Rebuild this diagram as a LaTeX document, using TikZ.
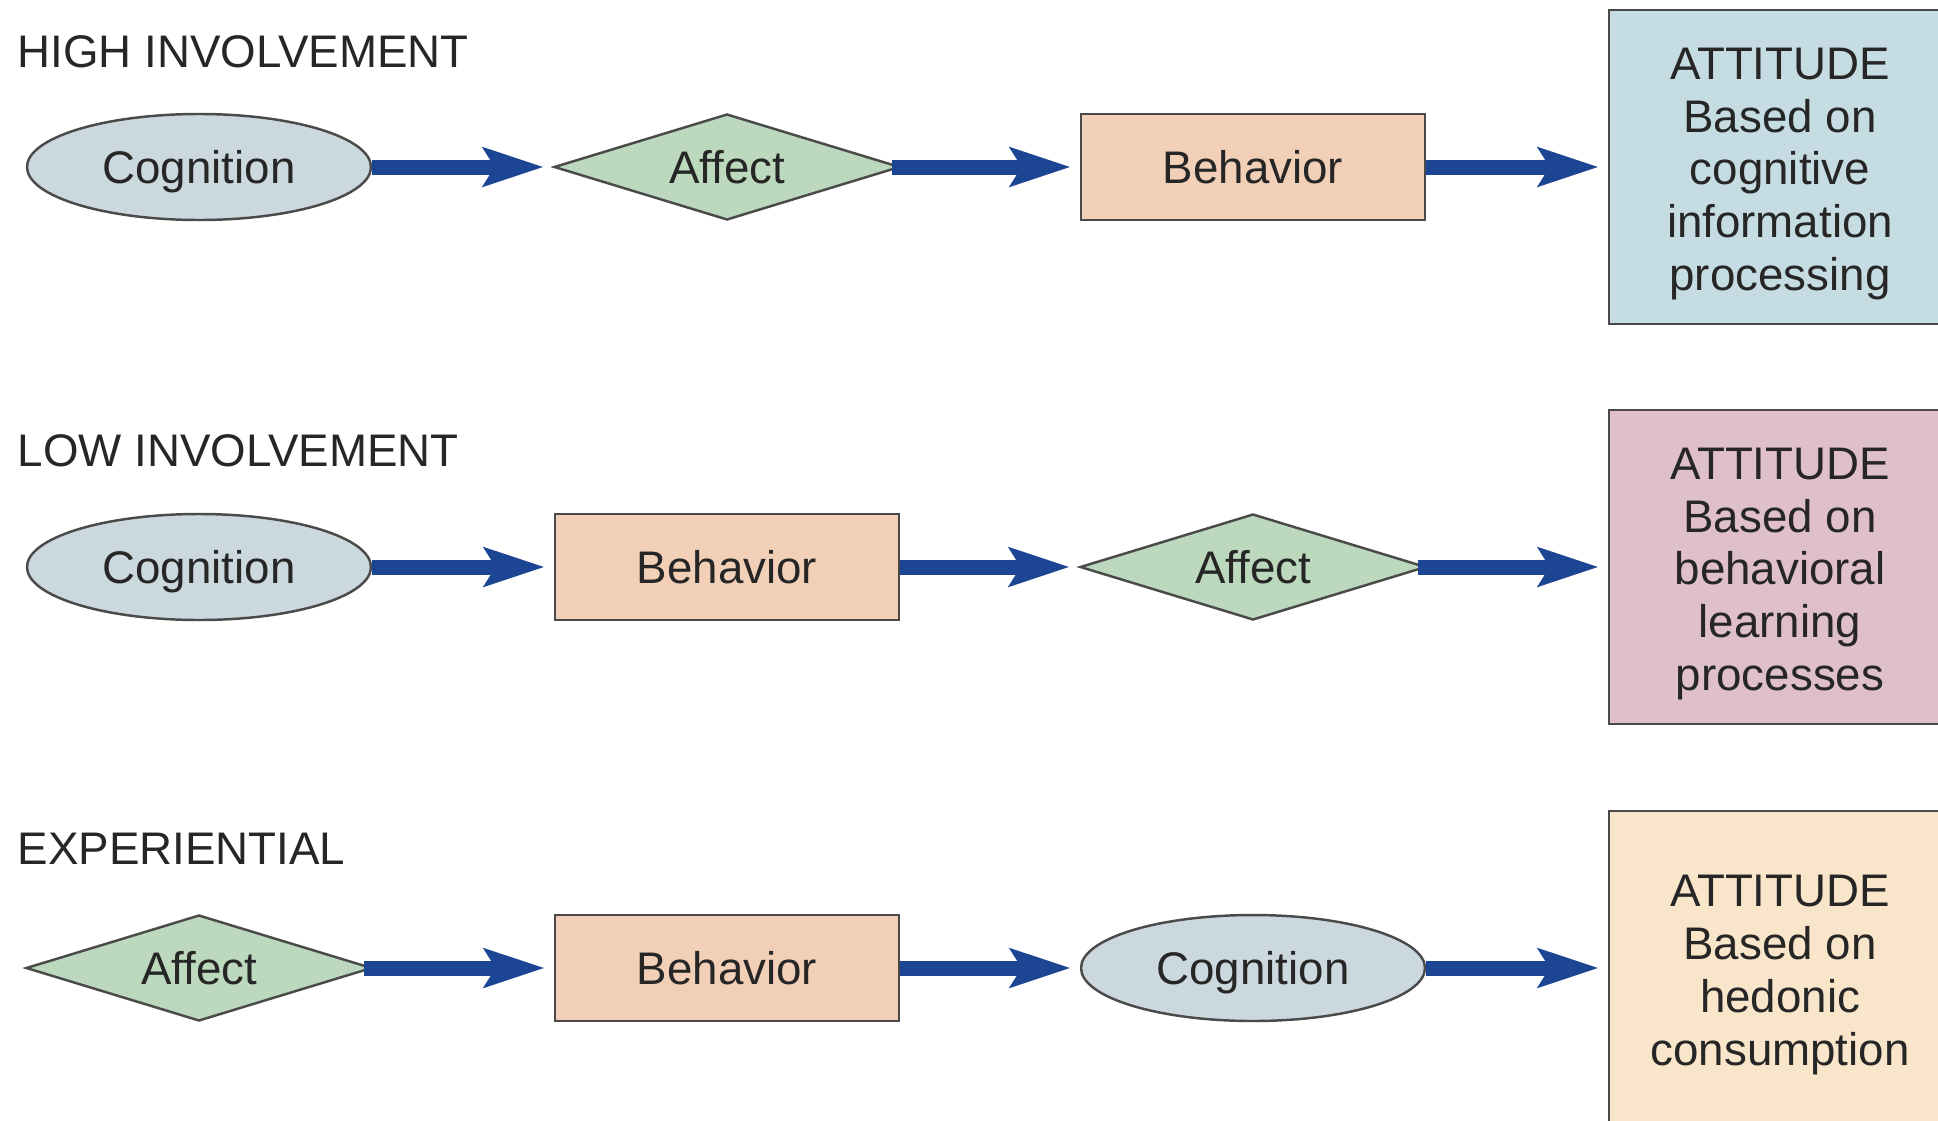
\documentclass[tikz,border=0pt]{standalone}
\usepackage{fontspec}
\setmainfont{Liberation Sans}
\usepackage[HTML]{xcolor}
\usetikzlibrary{shapes.geometric, arrows.meta}

\definecolor{cogfill}{HTML}{CBD8DE}
\definecolor{afffill}{HTML}{BCD9BD}
\definecolor{behfill}{HTML}{F2D0B8}
\definecolor{attblue}{HTML}{C6DCE3}
\definecolor{attpink}{HTML}{DFBFC8}
\definecolor{attcream}{HTML}{F9E5CA}
\definecolor{edgegray}{HTML}{4A4A4A}
\definecolor{arrowblue}{HTML}{1C4593}

\tikzset{
    cog/.style={ellipse, draw=edgegray, line width=0.7pt, fill=cogfill,
        minimum width=3.44cm, minimum height=1.06cm, inner sep=0pt, text depth=0pt},
    aff/.style={diamond, aspect=3.3, draw=edgegray, line width=0.7pt, fill=afffill,
        minimum width=3.46cm, minimum height=1.06cm, inner sep=0pt},
    beh/.style={rectangle, draw=edgegray, line width=0.7pt, fill=behfill,
        minimum width=3.44cm, minimum height=1.06cm, inner sep=0pt},
    attbox/.style={rectangle, draw=edgegray, line width=0.7pt,
        minimum width=3.42cm, minimum height=3.14cm, inner sep=0pt},
    atttext/.style={align=center, inner sep=0pt, yshift=-0.07cm},
    rowlabel/.style={anchor=west, inner sep=0pt},
    flow/.style={draw=arrowblue, line width=1.5mm, shorten >=0.9mm,
        -{Stealth[length=6mm, width=3.8mm, inset=1.1mm]}},
    fromdiamond/.style={shorten <=-0.9mm}
}

\begin{document}
\begin{tikzpicture}[
    every node/.style={font=\fontsize{13}{15}\selectfont, text=black!85}
]
    \useasboundingbox (0,0) rectangle (19.38,-11.2);

    % 1. Row labels
    \node[rowlabel] (hilab) at (0.17,-0.52) {HIGH INVOLVEMENT};
    \node[rowlabel] (lolab) at (0.17,-4.51) {LOW INVOLVEMENT};
    \node[rowlabel] (exlab) at (0.17,-8.49) {EXPERIENTIAL};

    % 2. High involvement row
    \node[cog] (hiC) at (1.99,-1.67) {Cognition};
    \node[aff] (hiA) at (7.27,-1.67) {Affect};
    \node[beh] (hiB) at (12.53,-1.67) {Behavior};
    \node[attbox, fill=attblue, label={[atttext]center:ATTITUDE\\Based on\\cognitive\\information\\processing}]
        (hiT) at (17.80,-1.67) {};

    % 3. Low involvement row
    \node[cog] (loC) at (1.99,-5.67) {Cognition};
    \node[beh] (loB) at (7.27,-5.67) {Behavior};
    \node[aff] (loA) at (12.53,-5.67) {Affect};
    \node[attbox, fill=attpink, label={[atttext]center:ATTITUDE\\Based on\\behavioral\\learning\\processes}]
        (loT) at (17.80,-5.67) {};

    % 4. Experiential row
    \node[aff] (exA) at (1.99,-9.68) {Affect};
    \node[beh] (exB) at (7.27,-9.68) {Behavior};
    \node[cog] (exC) at (12.53,-9.68) {Cognition};
    \node[attbox, fill=attcream, label={[atttext]center:ATTITUDE\\Based on\\hedonic\\consumption}]
        (exT) at (17.80,-9.68) {};

    % 5. Draw the arrows
    \draw[flow] (hiC) -- (hiA);
    \draw[flow, fromdiamond] (hiA) -- (hiB);
    \draw[flow] (hiB) -- (hiT);

    \draw[flow] (loC) -- (loB);
    \draw[flow] (loB) -- (loA);
    \draw[flow, fromdiamond] (loA) -- (loT);

    \draw[flow, fromdiamond] (exA) -- (exB);
    \draw[flow] (exB) -- (exC);
    \draw[flow] (exC) -- (exT);

\end{tikzpicture}
\end{document}
